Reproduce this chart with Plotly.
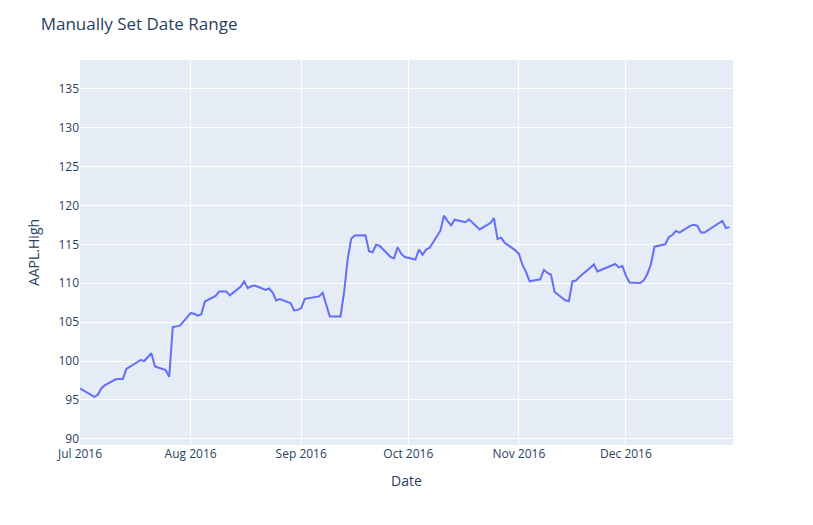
import pandas as pd
import plotly.graph_objects as go

dates = [
    "2016-07-01", "2016-07-05", "2016-07-06", "2016-07-07", "2016-07-08",
    "2016-07-11", "2016-07-12", "2016-07-13", "2016-07-14", "2016-07-15",
    "2016-07-18", "2016-07-19", "2016-07-20", "2016-07-21", "2016-07-22",
    "2016-07-25", "2016-07-26", "2016-07-27", "2016-07-28", "2016-07-29",
    "2016-08-01", "2016-08-02", "2016-08-03", "2016-08-04", "2016-08-05",
    "2016-08-08", "2016-08-09", "2016-08-10", "2016-08-11", "2016-08-12",
    "2016-08-15", "2016-08-16", "2016-08-17", "2016-08-18", "2016-08-19",
    "2016-08-22", "2016-08-23", "2016-08-24", "2016-08-25", "2016-08-26",
    "2016-08-29", "2016-08-30", "2016-08-31",
    "2016-09-01", "2016-09-02", "2016-09-06", "2016-09-07", "2016-09-08",
    "2016-09-09", "2016-09-12", "2016-09-13", "2016-09-14", "2016-09-15",
    "2016-09-16", "2016-09-19", "2016-09-20", "2016-09-21", "2016-09-22",
    "2016-09-23", "2016-09-26", "2016-09-27", "2016-09-28", "2016-09-29",
    "2016-09-30",
    "2016-10-03", "2016-10-04", "2016-10-05", "2016-10-06", "2016-10-07",
    "2016-10-10", "2016-10-11", "2016-10-12", "2016-10-13", "2016-10-14",
    "2016-10-17", "2016-10-18", "2016-10-19", "2016-10-20", "2016-10-21",
    "2016-10-24", "2016-10-25", "2016-10-26", "2016-10-27", "2016-10-28",
    "2016-10-31",
    "2016-11-01", "2016-11-02", "2016-11-03", "2016-11-04", "2016-11-07",
    "2016-11-08", "2016-11-09", "2016-11-10", "2016-11-11", "2016-11-14",
    "2016-11-15", "2016-11-16", "2016-11-17", "2016-11-18", "2016-11-21",
    "2016-11-22", "2016-11-23", "2016-11-25", "2016-11-28", "2016-11-29",
    "2016-11-30",
    "2016-12-01", "2016-12-02", "2016-12-05", "2016-12-06", "2016-12-07",
    "2016-12-08", "2016-12-09", "2016-12-12", "2016-12-13", "2016-12-14",
    "2016-12-15", "2016-12-16", "2016-12-19", "2016-12-20", "2016-12-21",
    "2016-12-22", "2016-12-23", "2016-12-27", "2016-12-28", "2016-12-29",
    "2016-12-30",
]

aapl_high = [
    96.47, 95.40, 95.66, 96.50, 96.89,
    97.65, 97.67, 97.67, 98.99, 99.30,
    100.13, 100.00, 100.46, 101.00, 99.30,
    98.84, 97.97, 104.35, 104.45, 104.55,
    106.15, 106.07, 105.84, 106.00, 107.65,
    108.37, 108.94, 108.90, 108.93, 108.44,
    109.54, 110.23, 109.37, 109.60, 109.69,
    109.15, 109.32, 108.79, 107.79, 107.95,
    107.44, 106.50, 106.57,
    106.80, 108.00, 108.30, 108.76, 107.27,
    105.72, 105.72, 108.79, 113.03, 115.73,
    116.13, 116.18, 114.12, 113.99, 114.94,
    114.79, 113.39, 113.18, 114.64, 113.80,
    113.37,
    113.05, 114.31, 113.66, 114.34, 114.56,
    116.75, 118.69, 117.98, 117.44, 118.17,
    117.84, 118.21, 117.76, 117.38, 116.91,
    117.74, 118.36, 115.70, 115.86, 115.21,
    114.23,
    113.77, 112.35, 111.46, 110.25, 110.51,
    111.72, 111.32, 111.09, 108.87, 107.81,
    107.68, 110.23, 110.35, 110.82, 111.99,
    112.42, 111.51, 111.87, 112.47, 112.03,
    112.20,
    110.94, 110.09, 110.03, 110.36, 111.19,
    112.43, 114.70, 115.00, 115.92, 116.20,
    116.73, 116.50, 117.38, 117.50, 117.40,
    116.52, 116.52, 117.80, 118.02, 117.11,
    117.20,
]

df = pd.DataFrame({"Date": pd.to_datetime(dates), "AAPL.High": aapl_high})

fig = go.Figure()
fig.add_trace(go.Scatter(x=df["Date"], y=df["AAPL.High"], mode="lines",
                         line=dict(color="#636efa", width=2)))
fig.update_layout(
    title="Manually Set Date Range",
    width=813, height=525,
    margin=dict(t=60, l=80, r=80, b=80),
    xaxis_title="Date",
    yaxis_title="AAPL.High",
    xaxis_range=["2016-07-01", "2016-12-31"],
    yaxis_range=[89.2, 138.7],
)
# drop the browser's default 8px body margin so the figure sits at the window corner
fig.write_html("out.html", config={"displayModeBar": False},
               post_script="document.body.style.margin='0';")
